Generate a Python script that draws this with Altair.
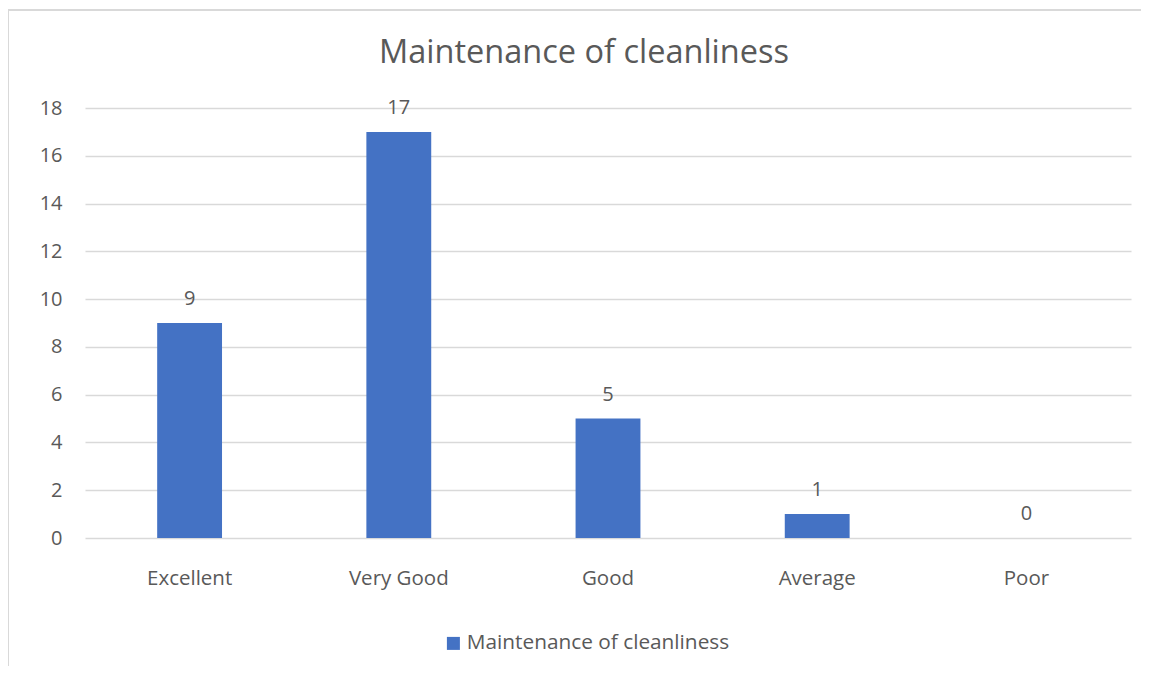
import altair as alt
import pandas as pd

categories = ["Excellent", "Very Good", "Good", "Average", "Poor"]
values = [9, 17, 5, 1, 0]
series_name = "Maintenance of cleanliness"
y_ticks = [0, 2, 4, 6, 8, 10, 12, 14, 16, 18]

df = pd.DataFrame({"category": categories, "value": values, "series": series_name})

FONT = "Open Sans"
TXT = "#595959"
W, H = 1046, 430

x_enc = alt.X("category:N", sort=categories, title=None,
              scale=alt.Scale(paddingInner=0.69, paddingOuter=0.345),
              axis=alt.Axis(labelAngle=0, labelFontSize=20.5, labelColor=TXT, labelFont=FONT,
                            ticks=False, domain=False, labelPadding=30, grid=False))
y_enc = alt.Y("value:Q", title=None,
              scale=alt.Scale(domain=[0, 18], nice=False),
              axis=alt.Axis(values=y_ticks, labelFontSize=20, labelColor=TXT, labelFont=FONT,
                            ticks=False, domain=False, labelPadding=23,
                            gridColor="#D9D9D9", gridWidth=1.3))

bars = alt.Chart(df).mark_bar(color="#4472C4").encode(
    x=x_enc, y=y_enc,
    color=alt.Color("series:N", scale=alt.Scale(range=["#4472C4"]),
                    legend=alt.Legend(title=None, orient="none", legendX=358, legendY=525,
                                      symbolType="square", symbolSize=169, symbolStrokeWidth=0,
                                      labelFontSize=20.8, labelColor=TXT, labelFont=FONT,
                                      labelOffset=3, labelLimit=0))
)

labels = alt.Chart(df).mark_text(baseline="bottom", dy=-14, fontSize=20, color=TXT, font=FONT).encode(
    x=alt.X("category:N", sort=categories), y="value:Q", text="value:Q"
)

title = alt.Chart(pd.DataFrame({"t": [series_name]})).mark_text(
    fontSize=32.5, color=TXT, font=FONT, baseline="middle", align="center"
).encode(x=alt.value(499), y=alt.value(-55), text="t:N")

border_top = alt.Chart(df).mark_rule(color="#D9D9D9", strokeWidth=2).encode(
    x=alt.value(-78), x2=alt.value(W + 70), y=alt.value(-98)
)
border_left = alt.Chart(df).mark_rule(color="#D9D9D9", strokeWidth=2).encode(
    x=alt.value(-77), y=alt.value(-98), y2=alt.value(H + 140)
)

chart = alt.layer(border_top, border_left, bars, labels, title).properties(
    width=W, height=H,
    padding={"left": 77, "top": 100, "right": 10, "bottom": 128},
    autosize=alt.AutoSizeParams(type="none"),
).configure_view(stroke=None).configure_axis(grid=True)

chart.save("out.html", embed_options={"renderer": "svg", "actions": False})
